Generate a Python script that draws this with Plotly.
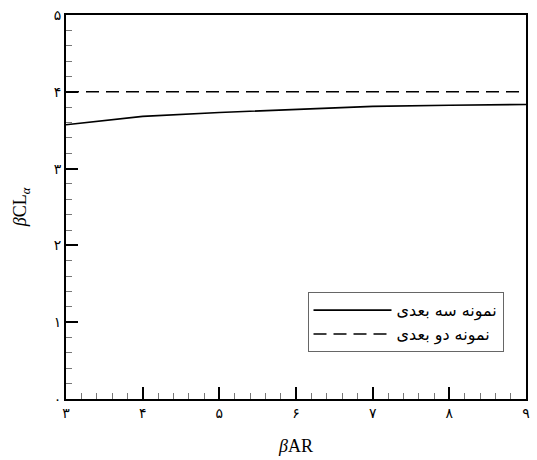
import plotly.graph_objects as go

# Lift-slope parameter vs. scaled aspect ratio
beta_ar = [3, 4, 5, 6, 7, 8, 9]
cl_alpha_3d = [3.57, 3.68, 3.73, 3.77, 3.81, 3.825, 3.835]
cl_alpha_2d = [4.0, 4.0, 4.0, 4.0, 4.0, 4.0, 4.0]

name_3d = "نمونه سه بعدی"
name_2d = "نمونه دو بعدی"

x_ticks = [3, 4, 5, 6, 7, 8, 9]
x_tick_text = ["۳", "۴", "۵", "۶", "۷", "۸", "۹"]
y_ticks = [0, 1, 2, 3, 4, 5]
y_tick_text = ["۰", "۱", "۲", "۳", "۴", "۵"]

fig = go.Figure()
fig.add_trace(go.Scatter(
    x=beta_ar, y=cl_alpha_3d, mode="lines", name=name_3d,
    line=dict(color="black", width=1.6),
))
fig.add_trace(go.Scatter(
    x=beta_ar, y=cl_alpha_2d, mode="lines", name=name_2d,
    line=dict(color="black", width=1.6, dash="13px,7px"),
))

axis_common = dict(
    showline=True, linecolor="black", linewidth=2, mirror=True,
    showgrid=False, zeroline=False,
    ticks="inside", ticklen=12, tickwidth=2, tickcolor="black",
    tickfont=dict(family="DejaVu Sans", size=14, color="black"),
)

fig.update_xaxes(
    range=[3, 9], tickvals=x_ticks, ticktext=x_tick_text,
    minor=dict(ticks="inside", ticklen=6, tickwidth=1, tickcolor="#777", dtick=0.2),
    title=dict(text="<i>β</i>AR", font=dict(family="Liberation Serif", size=18, color="black"), standoff=20),
    **axis_common,
)
fig.update_yaxes(
    range=[0, 5], tickvals=y_ticks, ticktext=y_tick_text,
    minor=dict(ticks="inside", ticklen=6, tickwidth=1, tickcolor="#777", dtick=0.2),
    title=dict(text="<i>β</i>CL<sub><i>α</i></sub>", font=dict(family="Liberation Serif", size=18, color="black"), standoff=22),
    **axis_common,
)

fig.update_layout(
    width=537, height=460,
    margin=dict(l=66, r=7, t=12, b=60),
    paper_bgcolor="white", plot_bgcolor="white",
    showlegend=True,
    legend=dict(
        x=0.525, y=0.278, xanchor="left", yanchor="top",
        bgcolor="white", bordercolor="#666", borderwidth=1,
        font=dict(family="DejaVu Sans", size=16, color="black"),
        itemwidth=78, tracegroupgap=0,
    ),
)

fig.write_html("out.html")
